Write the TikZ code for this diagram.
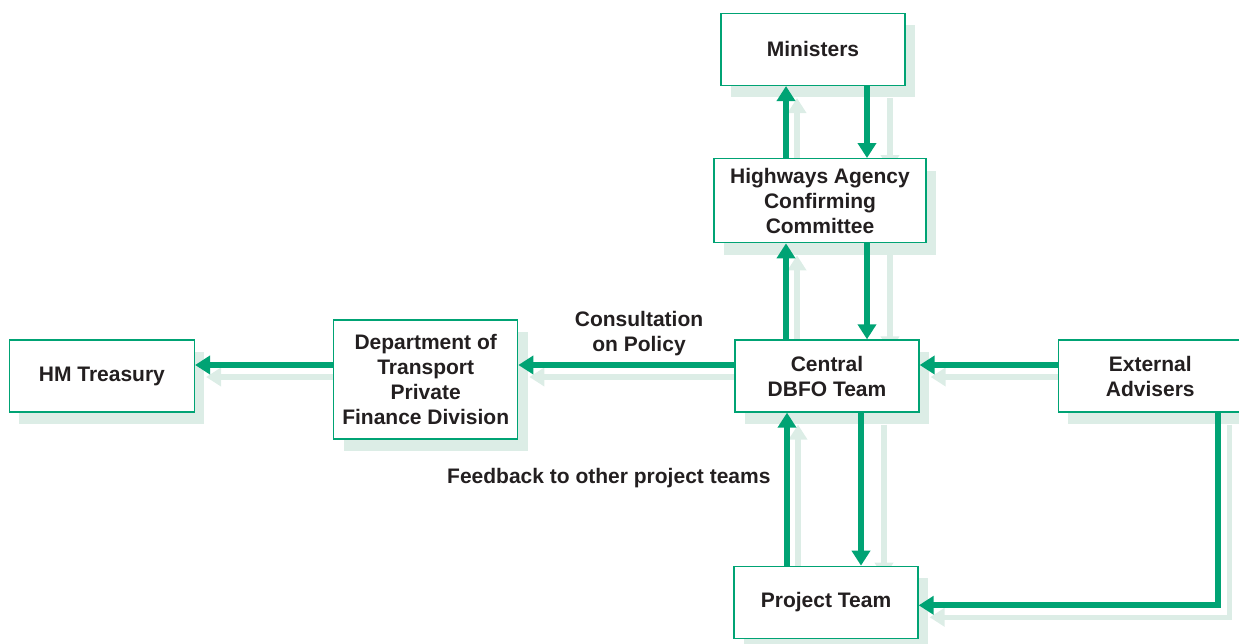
\documentclass[tikz,border=0pt]{standalone}
\usepackage{fontspec}
\setmainfont{Liberation Sans}
\usetikzlibrary{positioning, arrows.meta, shadows, backgrounds}
\definecolor{dbgreen}{RGB}{0,163,116}
\definecolor{dbshade}{RGB}{220,237,230}
\definecolor{dbtext}{RGB}{35,31,32}

\begin{document}
\begin{tikzpicture}[x=1pt, y=-1pt, font=\fontsize{21}{25}\selectfont\bfseries, text=dbtext,
  box/.style={draw=dbgreen, line width=1.3pt, fill=white, align=center, inner sep=2pt, minimum width=184pt, minimum height=72pt, drop shadow={shadow xshift=10pt, shadow yshift=-12pt, fill=dbshade, opacity=1}},
  arrow/.style={draw=dbgreen, line width=6pt, -{Triangle[length=15pt, width=18pt]}},
  echo/.style={draw=dbshade, line width=5.5pt, -{Triangle[length=15pt, width=18pt]}, transform canvas={xshift=11pt, yshift=-12pt}},
  echo down/.style={echo, transform canvas={xshift=12pt}}]

  \useasboundingbox (0,0) rectangle (1239,644);

  \node[box] (central) at (827,376) {Central\\DBFO Team};
  \node[box, minimum width=212pt, minimum height=84pt, above=96pt of central, xshift=-7pt] (agency) {Highways Agency\\Confirming\\Committee};
  \node[box, above=72pt of agency, xshift=-7pt] (ministers) {Ministers};
  \node[box, below=153pt of central, xshift=-1pt] (project) {Project Team};
  \node[box, right=138pt of central] (advisers) {External\\Advisers};
  \node[box, minimum height=119pt, left=216pt of central, yshift=-3.5pt] (dft) {Department of\\Transport\\Private\\Finance Division};
  \node[box, minimum width=185pt, left=138pt of dft, yshift=3.5pt] (treasury) {HM Treasury};

  % up and down between the committee levels
  \draw[arrow] ([xshift=-34pt]agency.north) -- ([xshift=-27pt]ministers.south);
  \draw[arrow] ([xshift=54pt]ministers.south) -- ([xshift=47pt]agency.north);
  \draw[arrow] ([xshift=-41pt]central.north) -- ([xshift=-34pt]agency.south);
  \draw[arrow] ([xshift=47pt]agency.south) -- ([xshift=40pt]central.north);
  \draw[arrow] ([xshift=-39pt]project.north) -- ([xshift=-40pt]central.south);
  \draw[arrow] ([xshift=34pt]central.south) -- ([xshift=35pt]project.north);

  % across to the left and in from the advisers
  \draw[arrow] ([yshift=11pt]central.west) -- ([yshift=14.5pt]dft.east);
  \draw[arrow] ([yshift=14.5pt]dft.west) -- ([yshift=11pt]treasury.east);
  \draw[arrow] ([yshift=11pt]advisers.west) -- ([yshift=11pt]central.east);
  \draw[arrow] ([xshift=68pt]advisers.south) |- ([yshift=-3pt]project.east);

  \node[align=center] (policy) at (639,334) {Consultation\\on Policy};
  \node[anchor=east] (feedback) at (774,478) {Feedback to other project teams};

  % pale copies of the arrows behind everything
  \begin{scope}[on background layer]
    \draw[echo] ([xshift=-34pt]agency.north) -- ([xshift=-27pt]ministers.south);
    \draw[echo down] ([xshift=54pt]ministers.south) -- ([xshift=47pt]agency.north);
    \draw[echo] ([xshift=-41pt]central.north) -- ([xshift=-34pt]agency.south);
    \draw[echo down] ([xshift=47pt]agency.south) -- ([xshift=40pt]central.north);
    \draw[echo] ([xshift=-39pt]project.north) -- ([xshift=-40pt]central.south);
    \draw[echo down] ([xshift=34pt]central.south) -- ([xshift=35pt]project.north);
    \draw[echo] ([yshift=11pt]central.west) -- ([yshift=14.5pt]dft.east);
    \draw[echo] ([yshift=14.5pt]dft.west) -- ([yshift=11pt]treasury.east);
    \draw[echo] ([yshift=11pt]advisers.west) -- ([yshift=11pt]central.east);
    \draw[echo] ([xshift=68pt]advisers.south) |- ([yshift=-3pt]project.east);
  \end{scope}
\end{tikzpicture}
\end{document}
